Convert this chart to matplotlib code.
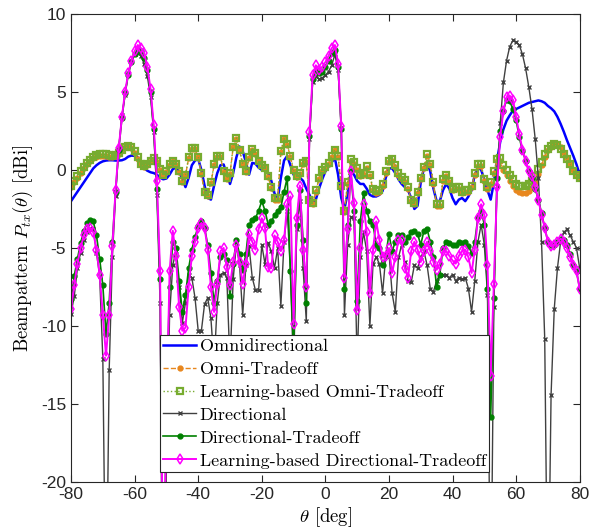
import numpy as np
import matplotlib
matplotlib.use("Agg")
import matplotlib.pyplot as plt
from matplotlib.font_manager import FontProperties

# angle grid in degrees (1 deg step)
theta = np.arange(-80, 81)

omni = [
    -2.0, -1.7, -1.4, -1.1, -0.8, -0.5, -0.2, 0.1, 0.3, 0.45,
    0.55, 0.6, 0.62, 0.62, 0.6, 0.6, 0.62, 0.7, 0.85, 0.92,
    0.9, 0.8, 0.5, 0.1, -0.05, -0.15, -0.2, -0.3, -0.5, -0.6,
    -0.55, -0.3, 0.05, 0.15, -0.1, -0.6, -1.1, -0.5, 0.3, 0.6,
    0.7, 0.0, -1.0, -1.8, -1.9, -1.0, -0.2, 0.3, 0.35, -0.3,
    -0.9, -0.2, 0.8, 1.5, 1.2, 0.5, -0.3, 0.45, 0.4, 0.15,
    0.0, -0.05, -0.2, -0.7, -1.5, -1.9, -0.5, 0.6, 0.9, 0.3,
    -0.3, -0.6, -0.5, -0.7, -1.2, -1.6, -2.05, -1.9, -1.2, -0.6,
    -0.1, 0.2, 0.5, 0.75, -0.3, -1.8, -2.5, -1.5, -0.1, -0.3,
    -0.7, -0.9, -0.9, -1.2, -1.6, -1.7, -1.7, -1.6, -1.35, -0.5,
    0.1, 0.1, -0.2, -0.6, -0.9, -1.1, -1.3, -1.8, -2.5, -2.3,
    -0.8, 0.1, 0.5, -0.1, -1.2, -2.0, -2.0, -1.3, -0.9, -1.2,
    -1.8, -2.2, -1.9, -1.8, -2.0, -1.7, -1.3, -0.3, 0.15, 0.0,
    -0.6, -1.3, -1.9, -0.8, 0.6, 1.8, 2.6, 3.15, 3.5, 3.8,
    3.9, 4.0, 4.1, 4.2, 4.3, 4.35, 4.4, 4.45, 4.4, 4.3,
    4.1, 3.95, 3.75, 3.4, 2.95, 2.45, 1.9, 1.4, 0.9, 0.35,
    -0.3,
]

omni_trade = [
    -1.1, -0.8, -0.5, -0.2, 0.1, 0.35, 0.55, 0.75, 0.85, 0.9,
    0.9, 0.9, 0.85, 0.85, 0.9, 1.05, 1.25, 1.45, 1.5, 1.4,
    1.1, 0.7, 0.35, 0.2, 0.3, 0.55, 0.7, 0.5, 0.0, -0.35,
    -0.15, 0.3, 0.55, 0.3, -0.15, -0.75, -0.35, 0.75, 1.35, 1.35,
    0.8, -0.25, -1.5, -1.7, -0.85, 0.3, 0.85, 0.85, -0.15, -0.55,
    -0.25, 1.45, 2.0, 1.25, 0.35, -0.15, 0.75, 1.3, 1.05, 0.55,
    0.25, 0.1, -0.45, -1.15, -1.9, -1.9, 1.15, 1.95, 1.6, 0.85,
    -0.05, -0.45, -0.25, 0.4, 0.5, -2.0, -2.2, -1.4, -0.6, -0.05,
    0.15, 0.4, 0.85, 1.25, 0.85, -1.1, -2.7, -0.9, 0.6, 0.4,
    0.0, -0.4, -0.3, 0.15, -0.4, -1.3, -1.45, -1.4, -1.0, -0.2,
    0.5, 0.6, 0.2, -0.3, -0.55, -0.75, -1.2, -2.0, -2.2, -1.5,
    -0.6, 0.1, 0.9, 0.3, -0.9, -2.3, -2.3, -0.7, -0.4, -0.8,
    -1.3, -1.2, -1.2, -1.5, -1.4, -1.4, -1.1, -0.3, 0.25, 0.25,
    -0.7, -1.2, -0.9, -0.2, 0.55, 0.55, 0.0, -0.35, -0.7, -1.0,
    -1.3, -1.4, -1.45, -1.45, -1.35, -1.1, -0.75, -0.25, 0.3, 0.85,
    1.25, 1.5, 1.65, 1.65, 1.45, 1.1, 0.75, 0.4, 0.0, -0.3,
    -0.5,
]

learn_omni = [
    -1.0, -0.7, -0.4, -0.1, 0.2, 0.45, 0.65, 0.85, 0.95, 1.0,
    1.0, 1.0, 0.95, 0.9, 0.95, 1.1, 1.3, 1.5, 1.55, 1.45,
    1.2, 0.8, 0.4, 0.25, 0.35, 0.6, 0.75, 0.55, 0.05, -0.3,
    -0.1, 0.35, 0.6, 0.35, -0.1, -0.7, -0.3, 0.8, 1.4, 1.4,
    0.85, -0.2, -1.4, -1.6, -0.8, 0.35, 0.9, 0.9, -0.1, -0.5,
    -0.2, 1.5, 2.05, 1.3, 0.4, -0.1, 0.8, 1.35, 1.1, 0.6,
    0.3, 0.15, -0.4, -1.1, -1.8, -1.8, 1.2, 2.0, 1.65, 0.9,
    0.0, -0.4, -0.2, 0.45, 0.55, -1.9, -2.1, -1.3, -0.5, 0.0,
    0.2, 0.45, 0.9, 1.3, 0.9, -1.0, -2.6, -0.8, 0.7, 0.5,
    0.1, -0.3, -0.2, 0.25, -0.3, -1.2, -1.35, -1.3, -0.9, -0.1,
    0.6, 0.7, 0.3, -0.2, -0.45, -0.65, -1.1, -1.9, -2.1, -1.4,
    -0.5, 0.2, 1.0, 0.4, -0.8, -2.2, -2.2, -0.6, -0.3, -0.7,
    -1.2, -1.1, -1.1, -1.4, -1.3, -1.3, -1.0, -0.2, 0.35, 0.35,
    -0.6, -1.1, -0.8, -0.1, 0.7, 0.75, 0.3, 0.0, -0.3, -0.6,
    -0.9, -1.0, -1.0, -1.0, -0.9, -0.7, -0.4, 0.05, 0.5, 1.0,
    1.35, 1.55, 1.65, 1.6, 1.35, 1.0, 0.7, 0.35, -0.05, -0.3,
    -0.5,
]

directional = [
    -9.2, -8.1, -6.3, -5.3, -4.5, -4.0, -3.7, -3.8, -5.3, -6.8,
    -12.1, -30.0, -12.8, -5.6, -1.7, 1.4, 3.5, 4.8, 6.2, 7.0,
    7.45, 7.5, 7.3, 6.8, 6.0, 4.7, 2.4, -1.6, -8.5, -35.0,
    -19.0, -9.3, -6.1, -5.2, -7.5, -9.8, -8.5, -6.7, -6.9, -8.2,
    -10.3, -10.3, -8.6, -8.2, -9.5, -12.5, -8.5, -6.7, -6.6, -6.9,
    -12.5, -7.0, -4.8, -6.1, -9.3, -6.1, -4.9, -6.9, -7.7, -7.7,
    -4.8, -6.0, -4.7, -5.2, -6.3, -5.0, -8.7, -4.6, -2.6, -6.5,
    -13.0, -3.8, -2.0, -6.3, -9.7, 2.0, 5.6, 6.0, 5.8, 5.9,
    6.05, 6.3, 6.7, 7.4, 6.4, 2.7, -9.3, -4.8, -3.0, -3.1,
    -12.5, -5.6, -4.0, -5.2, -10.0, -6.0, -5.6, -6.0, -7.9, -5.5,
    -5.3, -7.9, -9.1, -5.6, -4.8, -5.9, -7.1, -7.2, -6.1, -6.3,
    -5.6, -5.2, -6.1, -7.6, -7.8, -7.1, -6.7, -6.7, -6.7, -6.9,
    -6.7, -7.1, -6.9, -7.0, -6.9, -7.6, -9.1, -7.1, -4.6, -3.5,
    -4.8, -8.0, -30.0, -8.8, -1.0, 3.0, 5.6, 7.0, 7.9, 8.3,
    8.2, 8.0, 7.4, 6.5, 5.3, 3.9, 2.0, -0.5, -4.6, -10.8,
    -30.0, -14.4, -8.9, -6.3, -4.6, -4.0, -3.8, -4.2, -4.6, -5.0,
    -6.3,
]

dir_trade = [
    -8.3, -6.8, -5.7, -4.7, -3.9, -3.4, -3.2, -3.3, -4.2, -5.7,
    -7.4, -10.5, -8.5, -4.6, -1.4, 1.3, 3.3, 4.9, 6.1, 6.9,
    7.4, 7.7, 7.6, 7.2, 6.4, 5.0, 2.6, -1.2, -7.0, -30.0,
    -15.0, -7.5, -4.6, -5.0, -7.1, -9.1, -8.0, -6.3, -5.1, -4.3,
    -3.6, -3.3, -3.7, -4.8, -6.6, -8.5, -7.1, -5.6, -5.4, -5.8,
    -8.1, -6.0, -4.5, -5.4, -6.4, -5.4, -3.5, -3.2, -3.1, -2.6,
    -2.0, -2.6, -3.5, -3.3, -2.9, -2.6, -2.4, -1.4, -0.5, -6.5,
    -11.5, -3.5, -1.3, -4.5, -8.5, 2.2, 5.8, 6.4, 6.2, 6.3,
    6.6, 7.0, 7.5, 7.7, 6.6, 2.6, -7.6, -3.5, -0.1, -2.6,
    -8.4, -3.3, -1.5, -2.6, -3.3, -3.5, -4.8, -5.0, -6.1, -5.5,
    -4.1, -5.2, -4.6, -4.2, -4.2, -4.6, -4.3, -4.0, -3.9, -4.1,
    -4.8, -3.9, -3.8, -4.6, -5.6, -7.5, -6.7, -5.0, -4.6, -4.7,
    -4.8, -4.8, -4.6, -4.7, -4.6, -4.9, -5.3, -4.6, -3.0, -2.6,
    -3.5, -7.6, -15.8, -8.2, -0.5, 2.5, 3.8, 4.5, 4.4, 3.9,
    3.2, 2.1, 1.2, 0.6, -0.1, -0.5, -1.2, -1.9, -2.75, -3.7,
    -4.6, -4.8, -4.8, -4.6, -4.4, -4.5, -4.8, -5.4, -6.1, -6.5,
    -7.6,
]

learn_dir = [
    -8.9, -7.4, -6.0, -5.0, -4.2, -3.8, -3.7, -4.0, -5.1, -6.7,
    -9.3, -11.9, -9.3, -4.9, -1.3, 1.4, 3.4, 5.0, 6.2, 7.0,
    7.6, 8.0, 7.8, 7.5, 6.6, 5.2, 2.9, -0.7, -6.5, -28.0,
    -16.0, -6.5, -3.9, -5.5, -8.8, -10.3, -10.1, -7.5, -5.5, -4.6,
    -3.7, -3.4, -3.7, -5.1, -7.5, -9.1, -7.3, -5.2, -5.0, -6.2,
    -7.4, -5.9, -4.8, -5.9, -7.3, -6.0, -4.1, -4.6, -5.1, -3.8,
    -3.1, -3.7, -6.2, -6.3, -4.2, -4.6, -5.2, -4.5, -2.2, -1.7,
    -9.9, -3.1, -1.0, -5.1, -7.5, 2.4, 6.05, 6.7, 6.4, 6.6,
    6.9, 7.3, 7.8, 8.0, 6.8, 2.8, -6.9, -3.8, -0.1, -2.1,
    -9.0, -5.0, -2.2, -4.0, -7.9, -5.1, -3.3, -4.5, -5.6, -5.5,
    -5.0, -6.6, -5.6, -4.5, -4.5, -6.3, -6.9, -5.2, -4.6, -5.1,
    -5.9, -5.2, -4.6, -5.2, -5.9, -6.4, -6.0, -5.2, -5.2, -5.5,
    -5.8, -6.0, -5.5, -5.2, -5.1, -5.6, -6.6, -5.1, -3.1, -2.2,
    -2.9, -6.1, -13.2, -7.3, -1.1, 2.1, 3.8, 4.65, 4.75, 4.5,
    3.4, 2.3, 1.3, 0.6, -0.1, -0.4, -1.1, -1.9, -2.9, -3.7,
    -4.6, -4.9, -4.8, -4.6, -4.4, -4.6, -5.0, -5.6, -6.1, -6.5,
    -7.6,
]

plt.rcParams['mathtext.fontset'] = 'cm'
plt.rcParams['axes.unicode_minus'] = False
plt.rcParams['font.family'] = ['Liberation Sans', 'DejaVu Sans']

cm_font = 'cmr10'
axis_gray = '#262626'

fig = plt.figure(figsize=(5.97, 5.31), dpi=100)
ax = fig.add_axes([0.119, 0.092, 0.852, 0.882])

ax.plot(theta, omni, color='#0000ff', lw=1.8, label='Omnidirectional')
ax.plot(theta, omni_trade, color='#e8871e', ls='--', lw=1.0, marker='o',
        ms=3.5, label='Omni-Tradeoff')
ax.plot(theta, learn_omni, color='#77ac30', ls=':', lw=1.0, marker='s',
        ms=4.5, mfc='none', mew=1.6, label='Learning-based Omni-Tradeoff')
ax.plot(theta, directional, color='#404040', lw=1.0, marker='x',
        ms=3.5, mew=1.0, label='Directional')
ax.plot(theta, dir_trade, color='#008000', lw=1.2, marker='o',
        ms=3.5, label='Directional-Tradeoff')
ax.plot(theta, learn_dir, color='#ff00ff', lw=1.4, marker='d',
        ms=5.5, mfc='none', mew=1.1, label='Learning-based Directional-Tradeoff')

ax.set_xlim(-80, 80)
ax.set_ylim(-20, 10)
ax.set_xticks(np.arange(-80, 81, 20))
ax.set_yticks(np.arange(-20, 11, 5))
ax.tick_params(direction='in', top=True, right=True, labelsize=12.5,
               length=5, width=0.8, colors=axis_gray)
for sp in ax.spines.values():
    sp.set_color(axis_gray)
    sp.set_linewidth(0.8)

ax.set_xlabel(r'$\theta$ [deg]', fontfamily=cm_font, fontsize=13.5, labelpad=2)
ax.set_ylabel(r'Beampattern $P_{tx}(\theta)$ [dBi]', fontfamily=cm_font,
              fontsize=13.5, labelpad=4)

leg = ax.legend(loc='lower center', bbox_to_anchor=(0.4985, 0.021),
                borderaxespad=0, prop=FontProperties(family=cm_font, size=13),
                handlelength=1.8, handletextpad=0.2, borderpad=0.2,
                labelspacing=0.4, fancybox=False, framealpha=1,
                edgecolor=axis_gray)
leg.get_frame().set_linewidth(0.8)

fig.savefig('out.png', dpi=100)
